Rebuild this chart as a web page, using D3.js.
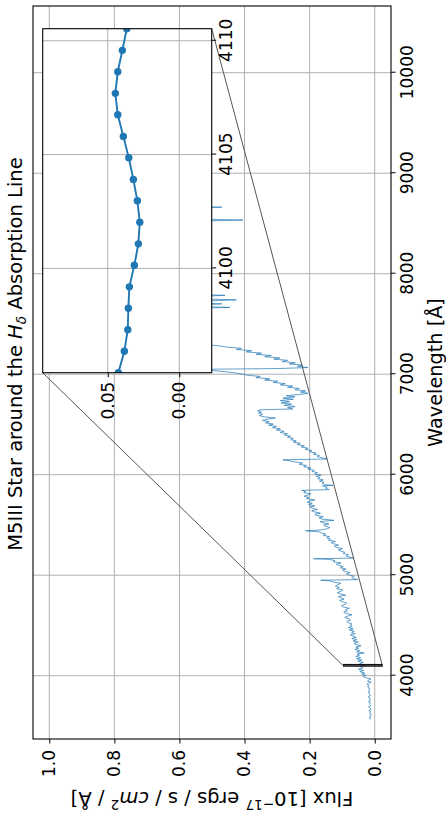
<!DOCTYPE html>
<html>
<head>
<meta charset="utf-8">
<script src="https://cdn.jsdelivr.net/npm/d3@7"></script>
<style>
  html, body { margin: 0; padding: 0; background: #fff; }
  svg { display: block; }
  text { font-family: "DejaVu Sans", sans-serif; fill: #000; }
</style>
</head>
<body>
<div id="chart"></div>
<script>
// ---- Data -------------------------------------------------------------
// Full SDSS spectrum of the M5III star: [wavelength (Å), flux (1e-17 erg/s/cm²/Å)]
const spectrum = [
  [3566,.012],[3578,.017],[3590,.011],[3603,.015],[3615,.010],[3628,.016],[3640,.012],[3652,.018],
  [3665,.011],[3677,.014],[3690,.019],[3702,.012],[3715,.016],[3727,.013],[3740,.019],[3752,.012],
  [3765,.017],[3777,.014],[3790,.020],[3802,.013],[3815,.018],[3827,.015],[3840,.021],[3852,.014],
  [3865,.019],[3877,.016],[3890,.022],[3902,.017],[3915,.024],[3927,.018],[3934,.011],[3945,.022],
  [3957,.019],[3968,.012],[3980,.028],[3992,.036],[4004,.027],[4016,.040],[4028,.031],[4040,.046],
  [4052,.034],[4064,.050],[4076,.037],[4088,.044],
  [4120,.046],[4132,.035],[4144,.052],[4156,.040],[4168,.056],[4180,.043],[4192,.058],[4204,.047],
  [4216,.054],[4227,.032],[4238,.055],[4250,.046],[4262,.061],[4274,.049],[4286,.058],[4298,.042],
  [4310,.057],[4322,.064],[4334,.051],[4346,.066],[4358,.055],[4370,.070],[4382,.057],[4394,.067],
  [4406,.075],[4418,.060],[4430,.071],[4442,.063],[4454,.078],[4466,.066],[4478,.081],[4490,.069],
  [4502,.076],[4515,.070],[4528,.081],[4541,.086],[4554,.074],[4567,.079],[4580,.092],[4593,.083],
  [4606,.070],[4619,.088],[4632,.095],[4645,.084],[4658,.090],[4671,.078],[4684,.097],[4697,.102],
  [4710,.091],[4723,.086],[4736,.099],[4749,.108],[4762,.094],[4775,.104],[4788,.112],[4801,.089],
  [4814,.106],[4827,.115],[4840,.103],[4853,.098],[4866,.117],[4879,.109],[4892,.121],[4905,.114],
  [4918,.104],[4931,.126],[4944,.138],[4950,.166],[4956,.052],[4966,.066],[4978,.071],[4990,.063],
  [5002,.080],[5014,.087],[5026,.076],[5038,.092],[5050,.099],[5062,.088],[5074,.106],[5086,.097],
  [5098,.112],[5110,.118],[5122,.104],[5134,.127],[5146,.122],[5158,.142],[5164,.188],[5170,.066],
  [5180,.079],[5192,.088],[5204,.081],[5216,.097],[5228,.092],[5240,.104],[5252,.112],[5264,.099],
  [5276,.116],[5288,.124],[5300,.111],[5312,.126],[5324,.134],[5336,.121],[5348,.142],[5360,.136],
  [5372,.147],[5384,.139],[5396,.158],[5408,.150],[5420,.163],[5432,.172],[5442,.212],[5450,.166],
  [5462,.146],[5474,.138],[5486,.150],[5498,.157],[5510,.141],[5522,.160],[5534,.168],[5546,.125],
  [5558,.162],[5570,.171],[5582,.158],[5594,.178],[5606,.184],[5618,.167],[5630,.186],[5642,.194],
  [5654,.176],[5666,.190],[5678,.199],[5690,.184],[5702,.203],[5714,.192],[5726,.208],[5738,.198],
  [5750,.184],[5762,.210],[5774,.202],[5786,.217],[5798,.205],[5810,.196],[5822,.218],[5834,.212],
  [5844,.224],[5852,.140],[5864,.151],[5876,.146],[5888,.160],[5894,.128],[5900,.150],[5912,.162],
  [5924,.156],[5936,.170],[5948,.158],[5960,.175],[5972,.168],[5984,.180],[5996,.165],[6008,.184],
  [6020,.176],[6032,.192],[6044,.186],[6056,.206],[6068,.196],[6080,.218],[6092,.210],[6104,.232],
  [6116,.222],[6128,.248],[6140,.262],[6148,.282],[6156,.146],[6168,.162],[6180,.176],[6192,.170],
  [6204,.188],[6216,.180],[6228,.200],[6240,.193],[6252,.214],[6264,.205],[6276,.226],[6288,.216],
  [6300,.238],[6312,.229],[6324,.250],[6336,.241],[6348,.258],[6360,.250],[6372,.268],[6384,.259],
  [6396,.278],[6408,.268],[6420,.290],[6432,.279],[6444,.302],[6456,.290],[6468,.314],[6480,.302],
  [6492,.326],[6504,.312],[6516,.336],[6528,.324],[6540,.345],[6552,.331],[6564,.305],[6576,.340],
  [6588,.354],[6600,.344],[6612,.357],[6624,.348],[6636,.360],[6646,.352],[6654,.252],[6666,.268],
  [6678,.245],[6690,.278],[6702,.256],[6714,.288],[6726,.262],[6738,.290],[6750,.250],[6762,.282],
  [6774,.245],[6786,.272],[6798,.232],[6810,.205],[6822,.228],[6834,.212],[6846,.245],[6858,.232],
  [6870,.268],[6882,.252],[6894,.290],[6906,.275],[6918,.312],[6930,.298],[6942,.338],[6954,.322],
  [6966,.365],[6978,.352],[6990,.392],[7002,.408],[7014,.432],[7026,.462],[7038,.505],[7048,.555],
  [7056,.300],[7066,.205],[7078,.238],[7090,.222],[7102,.262],[7114,.244],[7126,.285],[7138,.268],
  [7150,.310],[7162,.292],[7174,.338],[7186,.318],[7198,.365],[7210,.348],[7222,.395],[7234,.378],
  [7246,.425],[7258,.410],[7270,.455],[7282,.478],[7294,.515],[7306,.540],
  [7340,.575],[7380,.598],[7420,.625],[7460,.610],[7500,.655],[7540,.640],[7580,.610],[7620,.640],
  [7650,.600],[7665,.445],[7680,.610],[7700,.470],[7715,.625],[7740,.425],[7760,.640],[7785,.460],
  [7805,.665],[7840,.690],[7880,.672],[7920,.710],[7960,.692],[8000,.728],[8040,.712],[8080,.748],
  [8120,.730],[8160,.760],[8200,.742],[8240,.770],[8280,.752],[8320,.780],[8360,.762],[8400,.745],
  [8440,.690],[8480,.668],[8515,.630],[8534,.405],[8550,.645],[8590,.685],[8630,.702],[8652,.665],
  [8662,.470],[8674,.690],[8710,.722],[8750,.742],[8790,.760],[8830,.735],[8870,.772],[8910,.752],
  [8950,.790],[8990,.770],[9030,.800],[9070,.782],[9110,.812],[9150,.792],[9200,.820],[9250,.800],
  [9300,.780],[9350,.812],[9400,.792],[9450,.822],[9500,.802],[9550,.832],[9600,.812],[9650,.840],
  [9700,.820],[9750,.848],[9800,.828],[9850,.856],[9900,.838],[9950,.860],[10000,.832],[10050,.850],
  [10100,.822],[10150,.842],[10200,.812],[10250,.830],[10300,.802],[10350,.820],[10400,.792]
];

// Pixels around the H-delta line shown in the zoomed panel
const insetWave = [4095.42, 4096.36, 4097.31, 4098.25, 4099.19, 4100.14, 4101.08, 4102.03, 4102.97,
                   4103.91, 4104.86, 4105.80, 4106.75, 4107.69, 4108.64, 4109.58, 4110.53];
const insetFlux = [0.0426, 0.0384, 0.0360, 0.0356, 0.0349, 0.0314, 0.0286, 0.0276, 0.0293,
                   0.0321, 0.0353, 0.0391, 0.0430, 0.0447, 0.0430, 0.0398, 0.0367];

const waveRange = [3370, 10664];
const fluxRange = [-0.05, 1.05];
const insetFluxRange = [-0.0227, 0.0955];

const waveTicks = [4000, 5000, 6000, 7000, 8000, 9000, 10000];
const fluxTicks = [0.0, 0.2, 0.4, 0.6, 0.8, 1.0];
const insetWaveTicks = [4100, 4105, 4110];
const insetFluxTicks = [0.00, 0.05];

// ---- Figure (laid out landscape, then turned a quarter-turn) ------------
const W = 819, H = 446;
const BLUE = "#1f77b4";
const GRID = "#b0b0b0";

const svg = d3.select("#chart").append("svg")
  .attr("width", H).attr("height", W);
const fig = svg.append("g").attr("transform", `translate(0,${W}) rotate(-90)`);
fig.append("rect").attr("width", W).attr("height", H).attr("fill", "#fff");

const defs = svg.append("defs");

// Main axes
const ax = { left: 80, right: 813, top: 33, bottom: 391 };
const x = d3.scaleLinear().domain(waveRange).range([ax.left, ax.right]);
const y = d3.scaleLinear().domain(fluxRange).range([ax.bottom, ax.top]);

defs.append("clipPath").attr("id", "clipMain").append("rect")
  .attr("x", ax.left).attr("y", ax.top)
  .attr("width", ax.right - ax.left).attr("height", ax.bottom - ax.top);

const grid = fig.append("g");
grid.selectAll(".gx").data(waveTicks).join("line")
  .attr("x1", d => x(d)).attr("x2", d => x(d))
  .attr("y1", ax.top).attr("y2", ax.bottom)
  .attr("stroke", GRID).attr("stroke-width", 1);
grid.selectAll(".gy").data(fluxTicks).join("line")
  .attr("x1", ax.left).attr("x2", ax.right)
  .attr("y1", d => y(d)).attr("y2", d => y(d))
  .attr("stroke", GRID).attr("stroke-width", 1);

// Spectrum (zoomed pixels merged in so both panels share the same samples)
const merged = spectrum.concat(insetWave.map((w, i) => [w, insetFlux[i]]))
  .sort((a, b) => a[0] - b[0]);

fig.append("path")
  .datum(merged)
  .attr("clip-path", "url(#clipMain)")
  .attr("fill", "none")
  .attr("stroke", BLUE)
  .attr("stroke-width", 0.7)
  .attr("stroke-linejoin", "round")
  .attr("d", d3.line().x(d => x(d[0])).y(d => y(d[1])));

// Zoom indicator rectangle and connectors
const wExt = d3.extent(insetWave);
const ins = { left: 446.3, right: 790.3, top: 42.7, bottom: 211.7 };

fig.append("rect")
  .attr("x", x(wExt[0])).attr("y", y(insetFluxRange[1]))
  .attr("width", x(wExt[1]) - x(wExt[0]))
  .attr("height", y(insetFluxRange[0]) - y(insetFluxRange[1]))
  .attr("fill", "none").attr("stroke", "#111").attr("stroke-width", 1.3);

fig.append("line")
  .attr("x1", x(wExt[0])).attr("y1", y(insetFluxRange[1]))
  .attr("x2", ins.left).attr("y2", ins.top)
  .attr("stroke", "#555").attr("stroke-width", 1);
fig.append("line")
  .attr("x1", x(wExt[1])).attr("y1", y(insetFluxRange[0]))
  .attr("x2", ins.right).attr("y2", ins.bottom)
  .attr("stroke", "#555").attr("stroke-width", 1);

// Main axis ticks and labels
const TICK_FONT = 17;
function styleAxis(g) {
  g.select(".domain").remove();
  g.selectAll(".tick line").attr("stroke", "#000").attr("stroke-width", 1);
  g.selectAll(".tick text").attr("font-size", TICK_FONT)
    .attr("font-family", "DejaVu Sans, sans-serif").attr("fill", "#000");
}
fig.append("g").attr("transform", `translate(0,${ax.bottom})`)
  .call(d3.axisBottom(x).tickValues(waveTicks).tickSize(4.5).tickPadding(5)
    .tickFormat(d3.format("d")))
  .call(styleAxis);
fig.append("g").attr("transform", `translate(${ax.left},0)`)
  .call(d3.axisLeft(y).tickValues(fluxTicks).tickSize(4.5).tickPadding(6.5)
    .tickFormat(d3.format(".1f")))
  .call(styleAxis);

fig.append("rect")
  .attr("x", ax.left).attr("y", ax.top)
  .attr("width", ax.right - ax.left).attr("height", ax.bottom - ax.top)
  .attr("fill", "none").attr("stroke", "#000").attr("stroke-width", 1.1);

// ---- Zoomed panel -----------------------------------------------------
const xi = d3.scaleLinear().domain(wExt).range([ins.left, ins.right]);
const yi = d3.scaleLinear().domain(insetFluxRange).range([ins.bottom, ins.top]);

defs.append("clipPath").attr("id", "clipInset").append("rect")
  .attr("x", ins.left).attr("y", ins.top)
  .attr("width", ins.right - ins.left).attr("height", ins.bottom - ins.top);

const inset = fig.append("g");
inset.append("rect")
  .attr("x", ins.left).attr("y", ins.top)
  .attr("width", ins.right - ins.left).attr("height", ins.bottom - ins.top)
  .attr("fill", "#fff");

inset.selectAll(".igx").data(insetWaveTicks).join("line")
  .attr("x1", d => xi(d)).attr("x2", d => xi(d))
  .attr("y1", ins.top).attr("y2", ins.bottom)
  .attr("stroke", GRID).attr("stroke-width", 1);
inset.selectAll(".igy").data(insetFluxTicks).join("line")
  .attr("x1", ins.left).attr("x2", ins.right)
  .attr("y1", d => yi(d)).attr("y2", d => yi(d))
  .attr("stroke", GRID).attr("stroke-width", 1);

const insetData = insetWave.map((w, i) => [w, insetFlux[i]]);
const insetPlot = inset.append("g").attr("clip-path", "url(#clipInset)");
insetPlot.append("path")
  .datum(insetData)
  .attr("fill", "none").attr("stroke", BLUE).attr("stroke-width", 1.9)
  .attr("d", d3.line().x(d => xi(d[0])).y(d => yi(d[1])));
insetPlot.selectAll("circle").data(insetData).join("circle")
  .attr("cx", d => xi(d[0])).attr("cy", d => yi(d[1]))
  .attr("r", 3.7).attr("fill", BLUE);

inset.append("g").attr("transform", `translate(0,${ins.bottom})`)
  .call(d3.axisBottom(xi).tickValues(insetWaveTicks).tickSize(4.5).tickPadding(4)
    .tickFormat(d3.format("d")))
  .call(styleAxis);
inset.append("g").attr("transform", `translate(${ins.left},0)`)
  .call(d3.axisLeft(yi).tickValues(insetFluxTicks).tickSize(4.5).tickPadding(4.5)
    .tickFormat(d3.format(".2f")))
  .call(styleAxis);

inset.append("rect")
  .attr("x", ins.left).attr("y", ins.top)
  .attr("width", ins.right - ins.left).attr("height", ins.bottom - ins.top)
  .attr("fill", "none").attr("stroke", "#000").attr("stroke-width", 1.1);

// ---- Titles and axis labels -------------------------------------------
const title = fig.append("text")
  .attr("x", 465).attr("y", 22)
  .attr("text-anchor", "middle").attr("font-size", 19.5);
title.append("tspan").text("M5III Star around the ");
title.append("tspan").attr("font-style", "italic").text("H");
title.append("tspan").attr("font-style", "italic").attr("font-size", 13.6).attr("dy", 4).text("δ");
title.append("tspan").attr("dy", -4).text(" Absorption Line");

fig.append("text")
  .attr("x", (ax.left + ax.right) / 2).attr("y", 441.5)
  .attr("text-anchor", "middle").attr("font-size", 19.3)
  .text("Wavelength [Å]");

const ylab = fig.append("text")
  .attr("transform", `translate(27,${(ax.top + ax.bottom) / 2}) rotate(-90)`)
  .attr("text-anchor", "middle").attr("font-size", 19.5);
ylab.append("tspan").text("Flux [10");
ylab.append("tspan").attr("font-size", 13.6).attr("dy", -7.5).text("−17");
ylab.append("tspan").attr("dy", 7.5).text(" ergs / s / ");
ylab.append("tspan").attr("font-style", "italic").text("cm");
ylab.append("tspan").attr("font-size", 13.6).attr("dy", -7.5).text("2");
ylab.append("tspan").attr("dy", 7.5).text(" / Å]");
</script>
</body>
</html>
